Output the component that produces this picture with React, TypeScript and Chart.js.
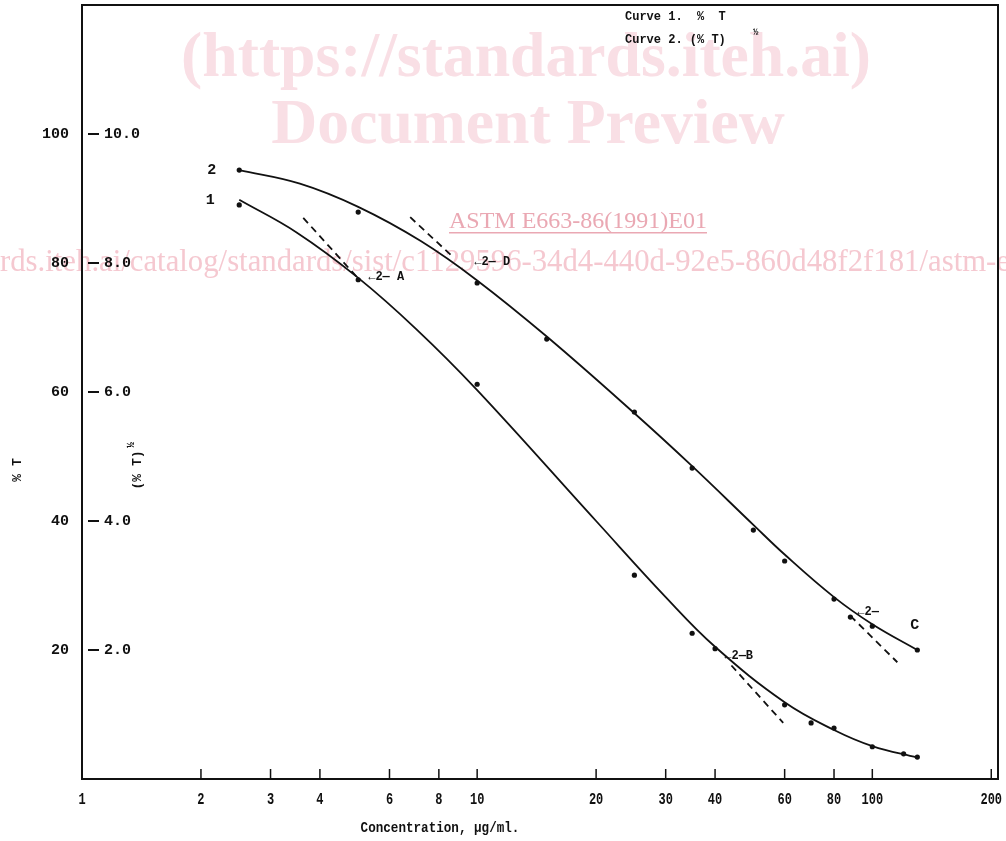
import React, { useEffect, useRef } from "react";
import { Chart, registerables } from "chart.js";
Chart.register(...registerables);

// Curve 1: % T (left scale)
const curve1PointX = [2.5, 5, 10, 25, 35, 40, 60, 70, 80, 100, 120, 130];
const curve1PointY = [89.0, 77.4, 61.2, 31.6, 22.6, 20.2, 11.5, 8.7, 7.9, 5.0, 3.9, 3.4];
const curve1LineX = [2.5, 3.5, 5, 7, 10, 20, 30, 40, 60, 80, 100, 130];
const curve1LineY = [89.8, 84.7, 77.7, 69.8, 60.3, 40.0, 28.2, 20.5, 11.9, 7.6, 5.1, 3.3];
// Curve 2: (% T)^1/2 (inner scale)
const curve2PointX = [2.5, 5, 10, 15, 25, 35, 50, 60, 80, 88, 100, 130];
const curve2PointY = [9.44, 8.79, 7.69, 6.82, 5.69, 4.82, 3.86, 3.38, 2.79, 2.51, 2.37, 2.0];
const curve2LineX = [2.5, 3.56, 5, 7.2, 10, 15, 25, 35, 50, 60, 80, 100, 130];
const curve2LineY = [9.44, 9.23, 8.87, 8.34, 7.73, 6.86, 5.67, 4.85, 3.94, 3.48, 2.82, 2.4, 2.0];
// Dashed tangents
const tangentAX = [3.63, 5.0];
const tangentAY = [87.0, 77.6];
const tangentBX = [44.0, 59.5];
const tangentBY = [17.6, 8.7];
const tangentDX = [6.77, 8.7];
const tangentDY = [8.71, 8.09];
const tangentCX = [88, 115.7];
const tangentCY = [2.53, 1.81];

const xTicks = [1, 2, 3, 4, 6, 8, 10, 20, 30, 40, 60, 80, 100, 200];
const yTicksLeft = [20, 40, 60, 80, 100];
const yTicksInner = ["2.0", "4.0", "6.0", "8.0", "10.0"];

// annotations (data units)
const annotations = [
  { text: "←2— A", x: 5.3, y: 77.8 },
  { text: "←2— D", x: 9.83, y: 80.2 },
  { text: "←2—B", x: 42.2, y: 19.1 },
  { text: "←2—", x: 91.6, y: 25.9 },
];
const letterC = { text: "C", x: 128, y: 23.8 };
const curveLabels = [
  { text: "2", x: 2.13, y: 94.4 },
  { text: "1", x: 2.11, y: 89.8 },
];

const zip = (xs: number[], ys: number[]) => xs.map((x, i) => ({ x, y: ys[i] }));

const MONO = '"Liberation Mono", "DejaVu Sans Mono", monospace';
const SERIF = '"Liberation Serif", "DejaVu Serif", serif';

const drawPlugin = {
  id: "customDraw",
  beforeDatasetsDraw(chart: any) {
    const ctx = chart.ctx;
    ctx.save();
    // watermark
    ctx.fillStyle = "#f9dfe5";
    ctx.textBaseline = "alphabetic";
    ctx.textAlign = "center";
    ctx.font = `bold 50px ${SERIF}`;
    const w1 = ctx.measureText("(https://standards.iteh.ai)").width;
    const fs = (50 * 690) / w1;
    ctx.font = `bold ${fs}px ${SERIF}`;
    ctx.fillText("(https://standards.iteh.ai)", 526, 76);
    ctx.fillText("Document Preview", 528, 143);
    // ASTM line
    ctx.fillStyle = "#eaa8b3";
    ctx.font = `24px ${SERIF}`;
    const astm = "ASTM E663-86(1991)E01";
    const aw = ctx.measureText(astm).width;
    const ax = 578;
    ctx.fillText(astm, ax, 228);
    ctx.fillRect(ax - aw / 2, 232, aw, 1.5);
    // URL line
    ctx.fillStyle = "#f5c8d0";
    const url = "https://standards.iteh.ai/catalog/standards/sist/c1129596-34d4-440d-92e5-860d48f2f181/astm-e663-86-1991e01";
    ctx.font = `24px ${SERIF}`;
    const visible = "rds.iteh.ai/catalog/standards/sist/c1129596-34d4-440d-92e5-860d48f2f181/astm-e";
    const vw = ctx.measureText(visible).width;
    const ufs = (24 * 1010) / vw;
    ctx.font = `${ufs}px ${SERIF}`;
    const pre = ctx.measureText("https://standa").width;
    ctx.textAlign = "left";
    ctx.fillText(url, -pre, 271);
    ctx.restore();
  },
  afterDatasetsDraw(chart: any) {
    const ctx = chart.ctx;
    const { left, right, top, bottom } = chart.chartArea;
    const xs = chart.scales.x;
    const ys = chart.scales.y;
    ctx.save();
    // frame
    ctx.strokeStyle = "#111";
    ctx.lineWidth = 2;
    ctx.strokeRect(left, top, right - left, bottom - top);
    // bottom ticks
    ctx.lineWidth = 1.5;
    xTicks.forEach((t) => {
      const px = xs.getPixelForValue(t);
      ctx.beginPath();
      ctx.moveTo(px, bottom);
      ctx.lineTo(px, bottom - 10);
      ctx.stroke();
    });
    // x labels
    ctx.fillStyle = "#111";
    ctx.textAlign = "center";
    ctx.textBaseline = "middle";
    xTicks.forEach((t) => {
      const px = xs.getPixelForValue(t);
      ctx.save();
      ctx.translate(px, 800);
      ctx.scale(0.8, 1.05);
      ctx.font = `bold 15px ${MONO}`;
      ctx.fillText(String(t), 0, 0);
      ctx.restore();
    });
    // x title
    ctx.save();
    ctx.translate(440, 828);
    ctx.scale(0.9, 1.05);
    ctx.font = `bold 14px ${MONO}`;
    ctx.fillText("Concentration, μg/ml.", 0, 0);
    ctx.restore();
    // y labels
    ctx.font = `bold 15px ${MONO}`;
    yTicksLeft.forEach((t, i) => {
      const py = ys.getPixelForValue(t);
      ctx.textAlign = "right";
      ctx.fillText(String(t), 69, py);
      ctx.fillRect(left + 6, py - 1, 11, 2);
      ctx.textAlign = "left";
      ctx.fillText(yTicksInner[i], left + 22, py);
    });
    // y titles
    ctx.save();
    ctx.translate(18, 470);
    ctx.rotate(-Math.PI / 2);
    ctx.textAlign = "center";
    ctx.font = `bold 13px ${MONO}`;
    ctx.fillText("% T", 0, 0);
    ctx.restore();
    ctx.save();
    ctx.translate(138, 470);
    ctx.rotate(-Math.PI / 2);
    ctx.textAlign = "center";
    ctx.font = `bold 13px ${MONO}`;
    ctx.fillText("(% T)", 0, 0);
    ctx.font = `bold 10px ${MONO}`;
    ctx.fillText("½", 25, -7);
    ctx.restore();
    // legend text
    ctx.textAlign = "left";
    ctx.font = `bold 12px ${MONO}`;
    ctx.fillText("Curve 1.  %  T", 625, 17);
    ctx.fillText("Curve 2. (% T)", 625, 40);
    ctx.font = `bold 9px ${MONO}`;
    ctx.fillText("½", 753, 33);
    // curve labels
    ctx.font = `bold 15px ${MONO}`;
    ctx.textAlign = "center";
    curveLabels.forEach((c) => {
      ctx.fillText(c.text, xs.getPixelForValue(c.x), ys.getPixelForValue(c.y));
    });
    // annotations
    ctx.textAlign = "left";
    ctx.font = `bold 12px ${MONO}`;
    annotations.forEach((a) => {
      ctx.fillText(a.text, xs.getPixelForValue(a.x), ys.getPixelForValue(a.y));
    });
    ctx.font = `bold 15px ${MONO}`;
    ctx.textAlign = "center";
    ctx.fillText(letterC.text, xs.getPixelForValue(letterC.x), ys.getPixelForValue(letterC.y));
    ctx.restore();
  },
};

export default function App() {
  const ref = useRef<HTMLCanvasElement | null>(null);
  useEffect(() => {
    document.body.style.margin = "0";
    const lineStyle = {
      type: "line" as const,
      showLine: true,
      pointRadius: 0,
      borderColor: "#111",
      borderWidth: 1.8,
      tension: 0.4,
      fill: false,
    };
    const dashStyle = {
      type: "line" as const,
      showLine: true,
      pointRadius: 0,
      borderColor: "#111",
      borderWidth: 1.8,
      borderDash: [7, 5],
      fill: false,
    };
    const pointStyle = {
      type: "line" as const,
      showLine: false,
      pointRadius: 2.6,
      pointBackgroundColor: "#111",
      pointBorderColor: "#111",
      pointBorderWidth: 0,
    };
    const chart = new Chart(ref.current as HTMLCanvasElement, {
      type: "line",
      data: {
        datasets: [
          { ...lineStyle, label: "Curve 1 fit", data: zip(curve1LineX, curve1LineY), yAxisID: "y" },
          { ...lineStyle, label: "Curve 2 fit", data: zip(curve2LineX, curve2LineY), yAxisID: "y2" },
          { ...pointStyle, label: "Curve 1", data: zip(curve1PointX, curve1PointY), yAxisID: "y" },
          { ...pointStyle, label: "Curve 2", data: zip(curve2PointX, curve2PointY), yAxisID: "y2" },
          { ...dashStyle, label: "A", data: zip(tangentAX, tangentAY), yAxisID: "y" },
          { ...dashStyle, label: "B", data: zip(tangentBX, tangentBY), yAxisID: "y" },
          { ...dashStyle, label: "D", data: zip(tangentDX, tangentDY), yAxisID: "y2" },
          { ...dashStyle, label: "C", data: zip(tangentCX, tangentCY), yAxisID: "y2" },
        ] as any,
      },
      options: {
        responsive: false,
        maintainAspectRatio: false,
        animation: false,
        layout: { padding: { left: 82, top: 5, right: 8, bottom: 62 } },
        plugins: { legend: { display: false }, tooltip: { enabled: false } },
        scales: {
          x: { type: "logarithmic", min: 1, max: 208, display: false },
          y: { type: "linear", min: 0, max: 120, display: false },
          y2: { type: "linear", min: 0, max: 12, display: false },
        },
      },
      plugins: [drawPlugin],
    });
    return () => chart.destroy();
  }, []);
  return (
    <div style={{ width: 1006, height: 841, background: "#fff" }}>
      <canvas ref={ref} width={1006} height={841} style={{ display: "block" }} />
    </div>
  );
}
